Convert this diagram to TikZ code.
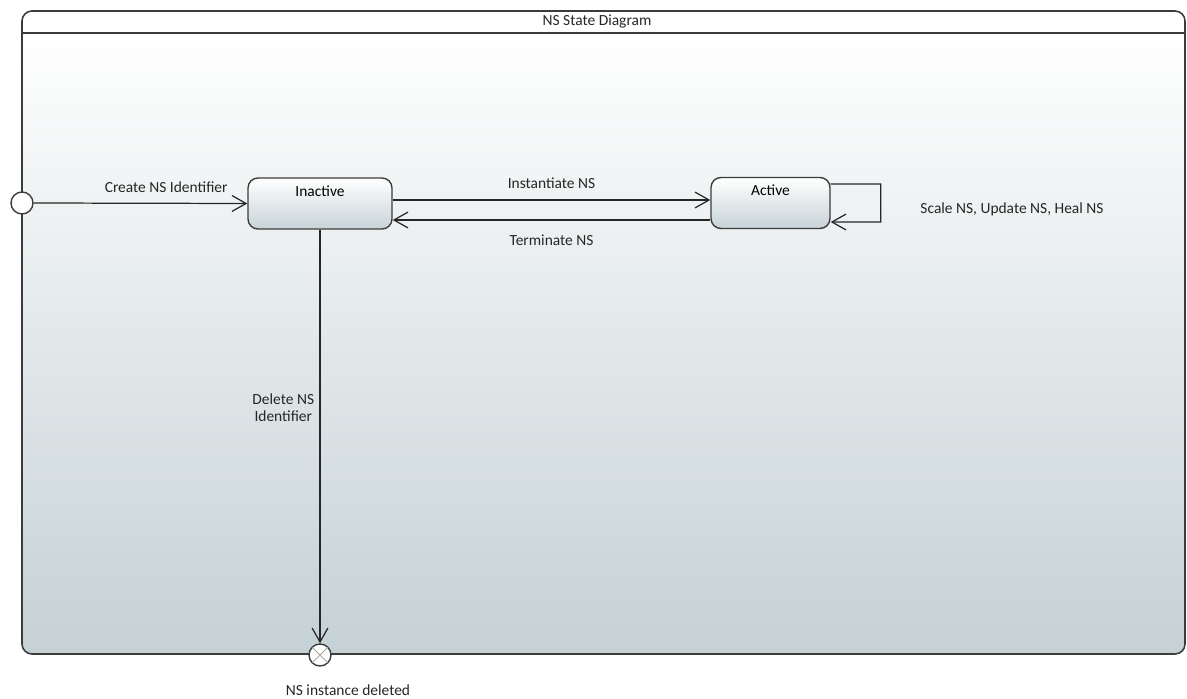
\documentclass[tikz,border=0pt]{standalone}
\usepackage{fontspec}
\setmainfont{Carlito}
\usepackage{tikz}
\usetikzlibrary{arrows.meta}
\usetikzlibrary{calc}

\definecolor{framebot}{RGB}{197,209,213}
\definecolor{statebot}{RGB}{200,211,215}
\definecolor{inkgray}{RGB}{60,60,60}

\tikzset{
    state/.style={draw=inkgray, line width=0.8pt, rounded corners=0.2cm,
        top color=white, bottom color=statebot,
        minimum width=2.88cm, minimum height=1.02cm,
        text depth=0.5cm, inner sep=2pt, font=\fontsize{8.8}{10}\selectfont},
    trans/.style={draw=black!85, line width=0.7pt,
        -{Straight Barb[length=8pt, width=9pt, line width=0.7pt]}},
    lbl/.style={font=\fontsize{8.8}{10}\selectfont, text=black!85, inner sep=1pt},
    pseudo/.style={circle, draw=inkgray, line width=0.8pt, fill=white,
        minimum size=0.44cm, inner sep=0pt}
}

\begin{document}
\begin{tikzpicture}[x=0.02cm, y=-0.02cm]
    \useasboundingbox (0, 0) rectangle (1187, 699);
    % frame
    \shade[top color=white, bottom color=framebot, rounded corners=0.2cm]
        (22, 33) -- (22, 654) -- (1185, 654) -- (1185, 33) -- cycle;
    \draw[draw=inkgray, line width=0.9pt, rounded corners=0.2cm]
        (22, 11) rectangle (1185, 654);
    \draw[draw=inkgray, line width=0.9pt] (22, 33) -- (1185, 33);
    \node[lbl] (title) at (597, 22) {NS State Diagram};

    % states
    \node[pseudo] (init) at (22, 203) {};
    \node[state] (inact) at (320, 203.5) {Inactive};
    \node[state, minimum width=2.38cm] (act) at (770.5, 203) {Active};
    \node[pseudo] (fin) at (320, 655) {};
    \draw[black!35, line width=0.5pt] ($(fin.center)+(-7.5,-7.5)$) -- ($(fin.center)+(7.5,7.5)$);
    \draw[black!35, line width=0.5pt] ($(fin.center)+(-7.5,7.5)$) -- ($(fin.center)+(7.5,-7.5)$);
    \node[lbl] (finlbl) at (348, 690) {NS instance deleted};

    % transitions
    \draw[trans] (init.east) -- (inact.west)
        node[lbl, pos=0.62, above=5pt] (create) {Create NS Identifier};
    \draw[trans] ([yshift=0.07cm]inact.east) -- ([yshift=0.07cm]inact.east -| act.west)
        node[lbl, midway, above=5pt] (inst) {Instantiate NS};
    \draw[trans] ([yshift=-0.34cm]act.west) -- ([yshift=-0.34cm]act.west -| inact.east)
        node[lbl, midway, below=7pt] (term) {Terminate NS};
    \draw[trans] ([yshift=0.38cm]act.east) -- ++(50, 0) -- ++(0, 38)
        -- ([yshift=-0.38cm]act.east);
    \node[lbl] (loop) at (1012, 209) {Scale NS, Update NS, Heal NS};
    \draw[trans] (inact.south) -- (fin.north)
        node[lbl, pos=0.43, left=2pt, align=center] (del) {Delete NS\\Identifier};
\end{tikzpicture}
\end{document}
